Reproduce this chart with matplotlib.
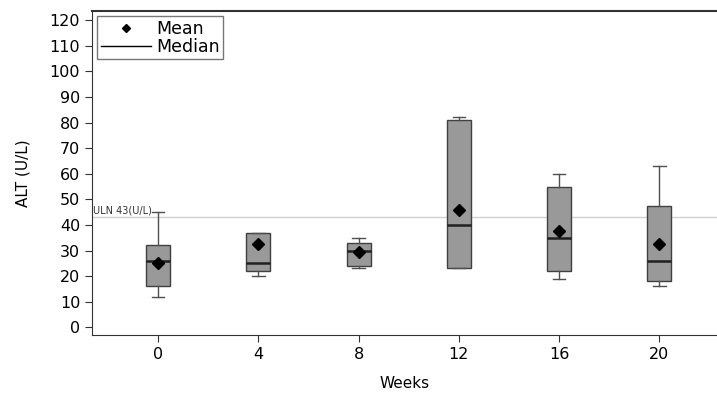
import matplotlib
matplotlib.use('Agg')
import matplotlib.pyplot as plt
from matplotlib.lines import Line2D

# ALT by week
weeks = [0, 4, 8, 12, 16, 20]
whisker_lo = [12, 20, 23, 23, 19, 16]
q1 = [16, 22, 24, 23, 22, 18]
median = [26, 25, 30, 40, 35, 26]
q3 = [32, 37, 33, 81, 55, 47.5]
whisker_hi = [45, 37, 35, 82, 60, 63]
mean = [25, 32.4, 29.3, 45.7, 37.8, 32.7]
uln = 43

stats = []
for i in range(len(weeks)):
    stats.append({'whislo': whisker_lo[i], 'q1': q1[i], 'med': median[i],
                  'q3': q3[i], 'whishi': whisker_hi[i], 'mean': mean[i],
                  'fliers': []})

fig = plt.figure(figsize=(7.17, 3.94), dpi=100)
ax = fig.add_axes([0.1283, 0.1497, 0.8717, 0.822])

ax.axhline(uln, color='#d0d0d0', lw=1, zorder=1)
ax.text(-2.6, uln + 0.6, 'ULN 43(U/L)', fontsize=7, color='#333333',
        ha='left', va='bottom')

ax.bxp(stats, positions=weeks, widths=0.95, patch_artist=True,
       showmeans=True, showfliers=False,
       boxprops=dict(facecolor='#999999', edgecolor='#404040', lw=1),
       medianprops=dict(color='#202020', lw=1.8),
       whiskerprops=dict(color='#505050', lw=1),
       capprops=dict(color='#505050', lw=1),
       capwidths=0.5,
       meanprops=dict(marker='D', markerfacecolor='black',
                      markeredgecolor='black', markersize=6),
       zorder=2)

ax.set_xlim(-2.64, 22.3)
ax.set_ylim(-3, 123.5)
ax.set_xticks(weeks)
ax.set_xticklabels([str(w) for w in weeks])
ax.set_yticks(range(0, 121, 10))
ax.tick_params(direction='out', length=5, labelsize=11.5, color='#333333')
ax.spines['right'].set_visible(False)
for s in ['left', 'bottom', 'top']:
    ax.spines[s].set_color('#333333')
ax.spines['top'].set_linewidth(1.5)

ax.set_xlabel('Weeks', fontsize=11, labelpad=10)
ax.set_ylabel('ALT (U/L)', fontsize=11, labelpad=14)

handles = [Line2D([], [], marker='D', color='black', ls='none', markersize=4),
           Line2D([], [], color='black', lw=1)]
ax.legend(handles, ['Mean', 'Median'], loc='upper left', fontsize=12.5,
          frameon=True, fancybox=False, edgecolor='#555555',
          borderpad=0.2, labelspacing=0.0, handlelength=2.9,
          handletextpad=0.3, borderaxespad=0.3)

fig.savefig('out.png', dpi=100)
